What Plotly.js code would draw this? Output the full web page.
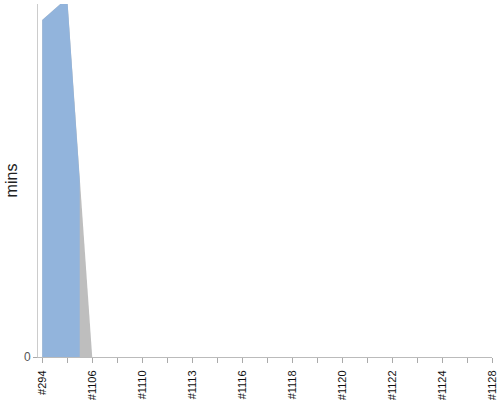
<!DOCTYPE html>
<html>
<head>
<meta charset="utf-8">
<script src="https://cdn.plot.ly/plotly-3.0.1.min.js"></script>
<style>html,body{margin:0;padding:0;background:#fff;}#chart{width:500px;height:400px;}</style>
</head>
<body>
<div id="chart"></div>
<script>
// Build categories (every other one labelled in the reference)
const categories = ['#294','#1105','#1106','#1108','#1110','#1112','#1113','#1115','#1116','#1117',
                    '#1118','#1119','#1120','#1121','#1122','#1123','#1124','#1126','#1128'];
const tickLabels = ['#294','','#1106','','#1110','','#1113','','#1116','',
                    '#1118','','#1120','','#1122','','#1124','','#1128'];
// Grey series (mins) by build position
const greyX = [0, 1, 2];
const greyY = [95.5, 101.7, 0];
// Blue series (mins), ends mid-way between the 2nd and 3rd build
const blueX = [0, 1, 1.5];
const blueY = [95.5, 101.7, 50];

const catIdx = categories.map((c, i) => i);

const traces = [
  {x: greyX, y: greyY, type: 'scatter', mode: 'lines', fill: 'tozeroy',
   fillcolor: '#bebebe', line: {width: 0, color: '#bebebe'}, hoverinfo: 'skip'},
  {x: blueX, y: blueY, type: 'scatter', mode: 'lines', fill: 'tozeroy',
   fillcolor: '#92b4dc', line: {width: 0, color: '#92b4dc'}, hoverinfo: 'skip'}
];

const layout = {
  width: 500, height: 400,
  margin: {l: 38, r: 8, t: 4, b: 43},
  paper_bgcolor: '#ffffff', plot_bgcolor: '#ffffff',
  showlegend: false,
  font: {family: 'Liberation Sans, Arial, sans-serif'},
  xaxis: {
    range: [-0.17, 18],
    tickmode: 'array', tickvals: catIdx, ticktext: tickLabels,
    tickangle: -90, ticks: 'outside', ticklen: 5, tickcolor: '#aaaaaa',
    ticklabelstandoff: 3,
    tickfont: {size: 11, color: '#111111'},
    showline: true, linecolor: '#bbbbbb', linewidth: 1,
    showgrid: false, zeroline: false, automargin: false
  },
  yaxis: {
    range: [0, 100],
    tickmode: 'array', tickvals: [0], ticktext: ['0'],
    ticks: 'outside', ticklen: 4, tickcolor: '#aaaaaa',
    tickfont: {size: 12, color: '#555555'},
    showline: true, linecolor: '#cccccc', linewidth: 1,
    showgrid: false, zeroline: false, automargin: false,
    title: {text: 'mins', font: {size: 16, color: '#222222'}, standoff: 2}
  }
};

Plotly.newPlot('chart', traces, layout, {displayModeBar: false, staticPlot: true});
</script>
</body>
</html>
